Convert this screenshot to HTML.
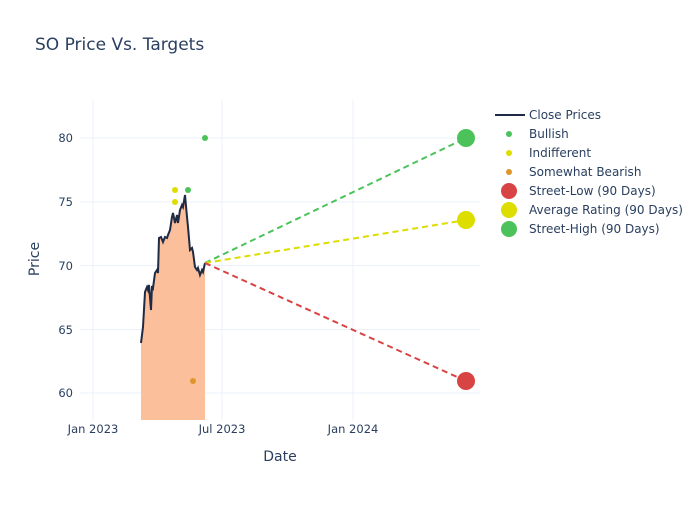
<!DOCTYPE html>
<html><head><style>body{margin:0;background:#fff}svg{font-family:"DejaVu Sans","Liberation Sans",sans-serif}</style></head><body>
<svg width="700" height="500" xmlns="http://www.w3.org/2000/svg">
<rect width="700" height="500" fill="#fff"/>
<g stroke="#ebf0f8" stroke-width="1">
<line x1="80" x2="480" y1="393" y2="393"/><line x1="80" x2="480" y1="329.5" y2="329.5"/><line x1="80" x2="480" y1="265.5" y2="265.5"/><line x1="80" x2="480" y1="202" y2="202"/><line x1="80" x2="480" y1="138" y2="138"/>
<line x1="93" x2="93" y1="100" y2="420"/><line x1="222" x2="222" y1="100" y2="420"/><line x1="353" x2="353" y1="100" y2="420"/>
</g>
<polygon fill="#fbbf9b" points="141,420 141,343 143,327 145,292 147,287 148,290 149,285 151,310 152,286 153,288 155,273 157,270 158,273 159,238 161,237 163,242 165,237 167,238 168,235 170,230 172,217 173,213 175,223 177,215 178,223 180,210 182,205 183,207 185,195 187,217 188,227 190,250 192,248 193,252 195,267 197,270 198,268 200,275 202,270 203,272 205,263 205,420"/>
<polyline fill="none" stroke="#1f2a44" stroke-width="2" points="141,343 143,327 145,292 147,287 148,290 149,285 151,310 152,286 153,288 155,273 157,270 158,273 159,238 161,237 163,242 165,237 167,238 168,235 170,230 172,217 173,213 175,223 177,215 178,223 180,210 182,205 183,207 185,195 187,217 188,227 190,250 192,248 193,252 195,267 197,270 198,268 200,275 202,270 203,272 205,263"/>
<g stroke-width="2" stroke-dasharray="6,4">
<line x1="205" y1="263" x2="466" y2="138" stroke="#4cc35a"/>
<line x1="205" y1="263" x2="466" y2="220" stroke="#dddd00"/>
<line x1="205" y1="263" x2="466" y2="381" stroke="#d84444"/>
</g>
<circle cx="175" cy="190" r="3" fill="#dddd00"/><circle cx="175" cy="202" r="3" fill="#dddd00"/>
<circle cx="188" cy="190" r="3" fill="#4cc35a"/><circle cx="205" cy="138" r="3" fill="#4cc35a"/>
<circle cx="193" cy="381" r="3" fill="#e0952a"/>
<circle cx="466" cy="138" r="9" fill="#4cc35a"/><circle cx="466" cy="220" r="9" fill="#dddd00"/><circle cx="466" cy="381" r="9" fill="#d84444"/>
<g font-size="11.5" fill="#2a3f5f" text-anchor="end">
<text x="73" y="397">60</text><text x="73" y="334">65</text><text x="73" y="270">70</text><text x="73" y="206">75</text><text x="73" y="142">80</text>
</g>
<g font-size="11.5" fill="#2a3f5f" text-anchor="middle">
<text x="93" y="433">Jan 2023</text><text x="222" y="433">Jul 2023</text><text x="353" y="433">Jan 2024</text>
<text x="280" y="461" font-size="14">Date</text>
<text transform="translate(39,259) rotate(-90)" font-size="14">Price</text>
</g>
<text x="35" y="50" font-size="17" fill="#2a3f5f">SO Price Vs. Targets</text>
<g font-size="12" fill="#2a3f5f">
<line x1="495" x2="525" y1="115" y2="115" stroke="#1f2a44" stroke-width="2"/><text x="529" y="119">Close Prices</text>
<circle cx="509" cy="134" r="3" fill="#4cc35a"/><text x="529" y="138">Bullish</text>
<circle cx="509" cy="153" r="3" fill="#dddd00"/><text x="529" y="157">Indifferent</text>
<circle cx="509" cy="172" r="3" fill="#e0952a"/><text x="529" y="176">Somewhat Bearish</text>
<circle cx="509" cy="191" r="8" fill="#d84444"/><text x="529" y="195">Street-Low (90 Days)</text>
<circle cx="509" cy="210" r="8" fill="#dddd00"/><text x="529" y="214">Average Rating (90 Days)</text>
<circle cx="509" cy="229" r="8" fill="#4cc35a"/><text x="529" y="233">Street-High (90 Days)</text>
</g>
</svg>
</body></html>
